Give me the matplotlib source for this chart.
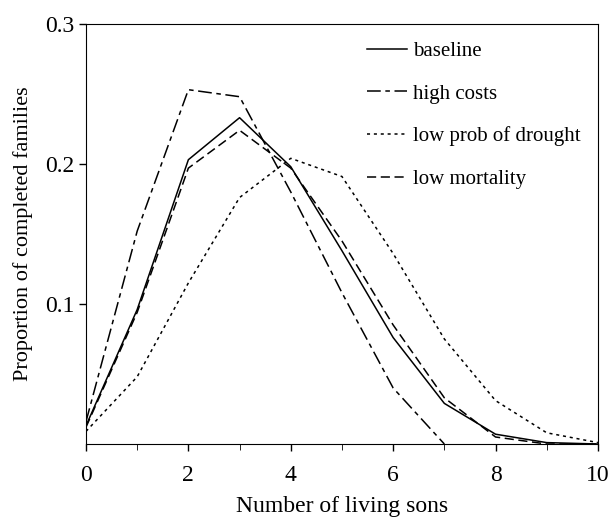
import matplotlib
matplotlib.use("Agg")
import matplotlib.pyplot as plt

plt.rcParams['font.family'] = ['Liberation Serif', 'DejaVu Serif']

sons = [0, 1, 2, 3, 4, 5, 6, 7, 8, 9, 10]
baseline = [0.013, 0.096, 0.203, 0.233, 0.198, 0.138, 0.076, 0.029, 0.007, 0.001, 0.0]
high_costs = [0.016, 0.152, 0.253, 0.248, 0.180, 0.108, 0.040, 0.0]
low_drought = [0.009, 0.048, 0.115, 0.176, 0.204, 0.191, 0.136, 0.075, 0.031, 0.008, 0.001]
low_mortality = [0.012, 0.094, 0.197, 0.224, 0.197, 0.145, 0.085, 0.033, 0.005, 0.0, 0.0]

fig = plt.figure(figsize=(6.12, 5.19), dpi=100)
ax = fig.add_axes([0.1405, 0.1445, 0.8365, 0.8095])

ax.plot(sons, baseline, color="black", lw=1.1, label="baseline")
ax.plot(sons[:len(high_costs)], high_costs, color="black", lw=1.1,
        dashes=(9, 3, 3, 3), label="high costs")
ax.plot(sons, low_drought, color="black", lw=1.1, dashes=(2, 2.5),
        label="low prob of drought")
ax.plot(sons, low_mortality, color="black", lw=1.1, dashes=(6, 3),
        label="low mortality")

ax.set_xlim(0, 10)
ax.set_ylim(0, 0.3)
ax.set_xticks([0, 2, 4, 6, 8, 10])
ax.set_xticks([1, 3, 5, 7, 9], minor=True)
ax.set_yticks([0.1, 0.2, 0.3])
ax.set_yticklabels(["0.1", "0.2", "0.3"])
ax.tick_params(axis="both", direction="out", labelsize=17, width=1, length=5, pad=3)
ax.tick_params(axis="x", which="minor", direction="out", length=4)
ax.tick_params(axis="x", pad=10)

ax.set_xlabel("Number of living sons", fontsize=17, labelpad=7)
ax.set_ylabel("Proportion of completed families", fontsize=16, labelpad=9)

ax.legend(loc="upper left", bbox_to_anchor=(0.548, 0.958), frameon=False,
          fontsize=15, handlelength=1.95, handletextpad=0.3, labelspacing=1.1,
          borderpad=0, borderaxespad=0)

fig.savefig("out.png", dpi=100)
